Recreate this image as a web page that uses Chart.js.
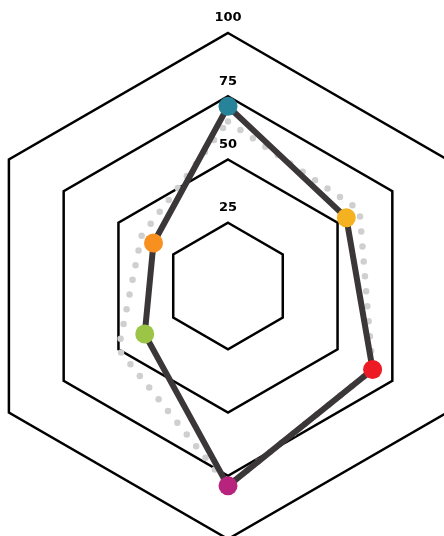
<!DOCTYPE html>
<html>
<head>
<meta charset="utf-8">
<script src="https://cdn.jsdelivr.net/npm/chart.js@4/dist/chart.umd.min.js"></script>
<style>
    html, body { margin: 0; padding: 0; background: #fff; overflow: hidden; }
    body { width: 444px; height: 536px; position: relative; }
    #wrap { position: absolute; left: -25px; top: -7px; }
</style>
</head>
<body>
<div id="wrap"><canvas id="radar" width="506" height="546"></canvas></div>
<script>
// Daten
var achsen = ['A', 'B', 'C', 'D', 'E', 'F'];
var werte = [71, 54, 66, 79, 38, 34];
var vergleich = [65, 60, 66, 79, 50, 39.5];
var punktFarben = ['#268399', '#f4b120', '#ed1c24', '#b8237e', '#9cc548', '#f7901e'];
var tickWerte = [25, 50, 75, 100];

// Skalenbeschriftung oberhalb der Ringe
var tickLabels = {
    id: 'tickLabels',
    afterDatasetsDraw: function (chart) {
        var r = chart.scales.r;
        var ctx = chart.ctx;
        ctx.save();
        ctx.font = 'bold 13px "DejaVu Sans", sans-serif';
        ctx.fillStyle = '#000';
        ctx.textAlign = 'center';
        ctx.textBaseline = 'middle';
        tickWerte.forEach(function (v) {
            var d = r.getDistanceFromCenterForValue(v);
            ctx.fillText(String(v), r.xCenter, r.yCenter - d - 15);
        });
        ctx.restore();
    }
};

new Chart('radar', {
    type: 'radar',
    data: {
        labels: achsen,
        datasets: [{
            data: werte,
            borderColor: '#3b3738',
            borderWidth: 6,
            fill: false,
            pointRadius: 9.5,
            pointBorderWidth: 0,
            pointBackgroundColor: punktFarben,
            pointHoverRadius: 9.5
        }, {
            data: vergleich,
            borderColor: '#cfcfcf',
            borderWidth: 6.5,
            borderDash: [0, 15],
            borderCapStyle: 'round',
            fill: false,
            pointRadius: 0,
            pointHoverRadius: 0
        }]
    },
    options: {
        responsive: false,
        animation: false,
        layout: { padding: { top: 40 } },
        plugins: {
            legend: { display: false },
            tooltip: { enabled: false }
        },
        scales: {
            r: {
                min: 0,
                max: 100,
                ticks: { display: false, stepSize: 25 },
                grid: { color: '#000', lineWidth: 2.5 },
                angleLines: { display: false },
                pointLabels: { display: false }
            }
        }
    },
    plugins: [tickLabels]
});
</script>
</body>
</html>
